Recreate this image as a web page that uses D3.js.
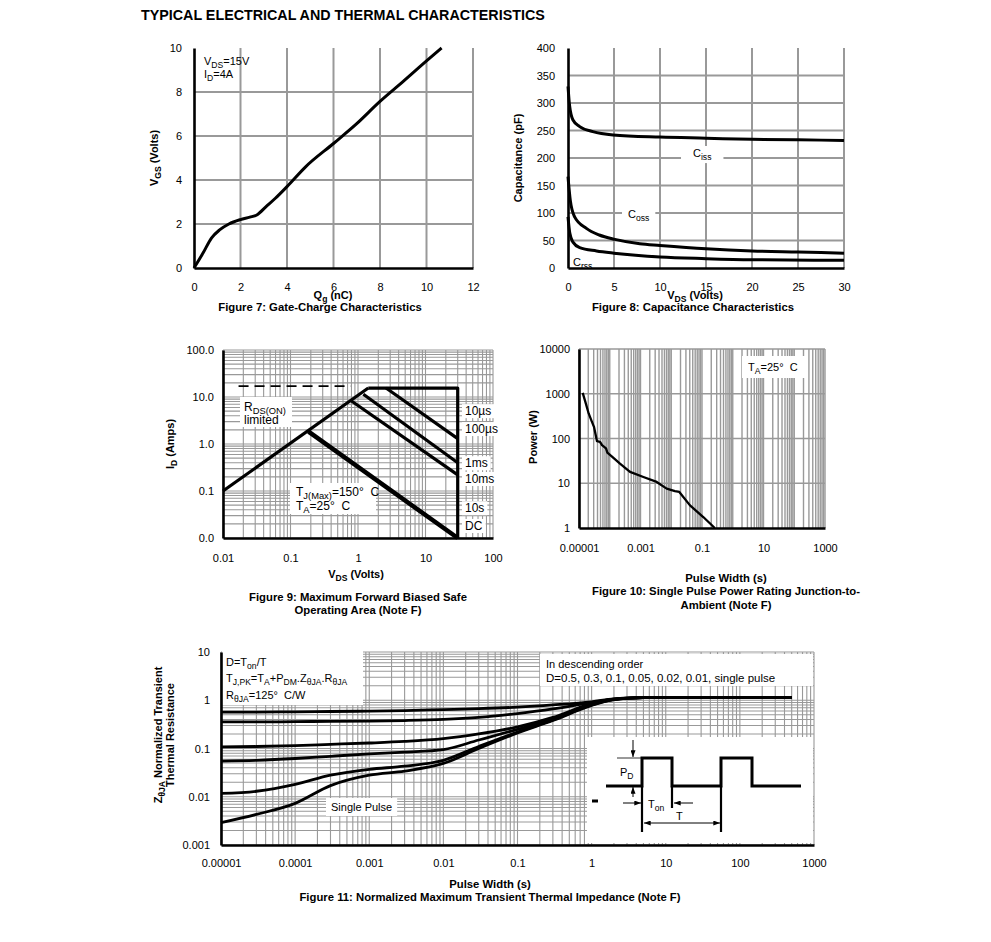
<!DOCTYPE html>
<html>
<head>
<meta charset="utf-8">
<script src="https://cdnjs.cloudflare.com/ajax/libs/d3/7.8.5/d3.min.js"></script>
<style>
  body { margin: 0; background: #fff; }
  svg { display: block; }
  text { font-family: 'Liberation Sans', Arial, sans-serif; fill: #000; }
</style>
</head>
<body>
<script>
// ---- Figure 7: gate charge
const gateQ = [0, 0.4, 0.75, 1.1, 1.5, 2, 2.4, 2.7, 3.1, 3.5, 4, 4.8, 6, 7, 8, 9, 10, 10.65];
const gateV = [0, 0.7, 1.36, 1.73, 2.0, 2.2, 2.31, 2.41, 2.79, 3.17, 3.7, 4.6, 5.66, 6.56, 7.57, 8.48, 9.41, 10];

// ---- Figure 8: capacitance
const cissV = [0, 0.18, 0.54, 1.27, 2.7, 4.9, 10, 15, 20, 25, 30];
const cissC = [330, 294, 269, 257, 248, 242, 238, 236, 234, 233, 232];
const cossV = [0, 0.25, 0.72, 2, 3.4, 5.1, 7.8, 10, 15, 20, 25, 30];
const cossC = [166, 123, 93, 72, 60, 52, 44, 41, 35, 31, 29, 27];
const crssV = [0, 0.2, 0.54, 1.27, 3.1, 5, 10, 15, 20, 30];
const crssC = [93, 63, 47, 37, 31, 27, 20, 17, 15, 14];

// ---- Figure 9: safe operating area (VDS, ID)
const soaRds = [[0.01, 0.1], [1.42, 15.5]];
const soaDash = [[0.017, 17], [0.78, 17]];
const soaEnvelope = [[1.42, 15.5], [30, 15.5], [30, 0.01]];
const soa10us = [[2.6, 15.5], [30, 1.3]];
const soa100us = [[1.2, 11.4], [30, 0.4]];
const soa1ms = [[0.8, 8.2], [30, 0.22]];
const soaDC = [[0.185, 1.83], [30, 0.01]];
const soaLabels = ["10\u00b5s", "100\u00b5s", "1ms", "10ms", "10s", "DC"];
const soaLabelI = [5.0, 2.08, 0.39, 0.18, 0.043, 0.018];

// ---- Figure 10: single pulse power
const pwrT = [1.32e-5, 1.61e-5, 2.06e-5, 2.58e-5, 3.07e-5, 3.85e-5, 4.82e-5, 5.6e-5, 7.55e-5, 8.35e-5, 1.21e-4,
  2.15e-4, 4.56e-4, 1.24e-3, 3.36e-3, 7.1e-3, 1.32e-2, 1.83e-2, 4.07e-2, 0.11, 0.26];
const pwrP = [1050, 660, 363, 245, 182, 87, 84, 71, 60, 48.5, 39, 27.5, 18, 13.8, 10.7, 7.6, 6.7, 6.4, 3.2, 1.76, 1];

// ---- Figure 11: transient thermal impedance
const zthT = [1e-5, 3e-5, 1e-4, 3e-4, 1e-3, 3e-3, 1e-2, 3e-2, 0.1, 0.3, 1, 2, 5, 20, 100, 500];
const zthD05 = [0.57, 0.57, 0.575, 0.585, 0.595, 0.61, 0.64, 0.67, 0.72, 0.8, 0.93, 1.07, 1.13, 1.15, 1.15, 1.15];
const zthD03 = [0.355, 0.355, 0.36, 0.365, 0.37, 0.38, 0.4, 0.44, 0.53, 0.66, 0.9, 1.06, 1.13, 1.15, 1.15, 1.15];
const zthD01 = [0.108, 0.11, 0.115, 0.122, 0.13, 0.14, 0.16, 0.2, 0.28, 0.44, 0.85, 1.05, 1.13, 1.15, 1.15, 1.15];
const zthD005 = [0.055, 0.057, 0.062, 0.069, 0.077, 0.084, 0.095, 0.15, 0.25, 0.41, 0.82, 1.04, 1.13, 1.15, 1.15, 1.15];
const zthD002 = [0.0117, 0.013, 0.018, 0.028, 0.037, 0.043, 0.057, 0.11, 0.22, 0.39, 0.8, 1.03, 1.13, 1.15, 1.15, 1.15];
const zthSingle = [0.0029, 0.0043, 0.0073, 0.017, 0.028, 0.034, 0.049, 0.1, 0.21, 0.38, 0.78, 1.03, 1.13, 1.15, 1.15, 1.15];

// tick values / labels
const ticks7x = [0, 2, 4, 6, 8, 10, 12], ticks7y = [0, 2, 4, 6, 8, 10];
const ticks8x = [0, 5, 10, 15, 20, 25, 30], ticks8y = [0, 50, 100, 150, 200, 250, 300, 350, 400];
const ticks9x = [0.01, 0.1, 1, 10, 100], labels9x = ["0.01", "0.1", "1", "10", "100"];
const ticks9y = [0.01, 0.1, 1, 10, 100], labels9y = ["0.0", "0.1", "1.0", "10.0", "100.0"];
const ticks10x = [1e-5, 1e-3, 0.1, 10, 1000], labels10x = ["0.00001", "0.001", "0.1", "10", "1000"];
const ticks10y = [1, 10, 100, 1000, 10000], labels10y = ["1", "10", "100", "1000", "10000"];
const ticks11x = [1e-5, 1e-4, 1e-3, 1e-2, 0.1, 1, 10, 100, 1000];
const labels11x = ["0.00001", "0.0001", "0.001", "0.01", "0.1", "1", "10", "100", "1000"];
const ticks11y = [0.001, 0.01, 0.1, 1, 10], labels11y = ["0.001", "0.01", "0.1", "1", "10"];

const NB = "\u00a0";
const svg = d3.select("body").append("svg").attr("width", 991).attr("height", 942);

// every k*10^n between lo and hi, for the log grids
function logGrid(lo, hi) {
  const out = [];
  for (let e = Math.round(Math.log10(lo)); e < Math.round(Math.log10(hi)); e++)
    for (let k = 1; k < 10; k++) out.push(k * Math.pow(10, e));
  out.push(hi);
  return out;
}

function panel(o) {
  const g = svg.append("g");
  const x = (o.xlog ? d3.scaleLog() : d3.scaleLinear()).domain(o.xd).range([o.left, o.right]);
  const y = (o.ylog ? d3.scaleLog() : d3.scaleLinear()).domain(o.yd).range([o.bottom, o.top]);
  const grid = g.append("g").attr("stroke", o.gc || "#999").attr("stroke-width", o.gw || 1.2);
  grid.selectAll(".gx").data(o.xgrid).join("line").attr("class", "gx")
    .attr("x1", d => x(d)).attr("x2", d => x(d)).attr("y1", o.top).attr("y2", o.bottom);
  grid.selectAll(".gy").data(o.ygrid).join("line").attr("class", "gy")
    .attr("y1", d => y(d)).attr("y2", d => y(d)).attr("x1", o.left).attr("x2", o.right);
  const boxes = g.append("g").attr("fill", "#fff");
  const marks = g.append("g").attr("fill", "none").attr("stroke", "#000").attr("stroke-linejoin", "round");
  const labels = g.append("g");
  const ax = g.append("g").attr("transform", `translate(0,${o.bottom})`)
    .call(d3.axisBottom(x).tickValues(o.xticks).tickFormat((d, i) => o.xlab ? o.xlab[i] : d)
      .tickSize(0).tickSizeOuter(0).tickPadding(o.xpad));
  const ay = g.append("g").attr("transform", `translate(${o.left},0)`)
    .call(d3.axisLeft(y).tickValues(o.yticks).tickFormat((d, i) => o.ylab ? o.ylab[i] : d)
      .tickSize(0).tickSizeOuter(0).tickPadding(o.ypad));
  [ax, ay].forEach(a => {
    a.select(".domain").attr("stroke", "#000").attr("stroke-width", 2.6);
    a.selectAll("text").attr("font-size", 11).attr("font-family", "'Liberation Sans', Arial, sans-serif");
  });
  return { g, x, y, boxes, marks, labels };
}

// text with subscripts: parts are strings or [subscript]
function rich(parent, x, y, parts, size, opt) {
  opt = opt || {};
  const t = parent.append("text").attr("x", x).attr("y", y).attr("font-size", size)
    .attr("text-anchor", opt.anchor || "start").attr("font-weight", opt.bold ? "bold" : null);
  if (opt.rotate) t.attr("transform", `rotate(-90,${x},${y})`);
  let shift = 0;
  parts.forEach(p => {
    const sub = Array.isArray(p);
    const want = sub ? size * 0.28 : 0;
    t.append("tspan").attr("dy", want - shift).attr("font-size", sub ? size * 0.78 : size).text(sub ? p[0] : p);
    shift = want;
  });
  return t;
}

function boxBehind(p, t, px, py) {
  const b = t.node().getBBox();
  p.boxes.append("rect").attr("x", b.x - px).attr("y", b.y - py)
    .attr("width", b.width + 2 * px).attr("height", b.height + 2 * py);
}

function plain(x, y, str, size, anchor) {
  return svg.append("text").attr("x", x).attr("y", y).attr("font-size", size)
    .attr("font-weight", "bold").attr("text-anchor", anchor || "middle").text(str);
}

const CAP = 11.3;

// ---------- title
plain(141, 20, "TYPICAL ELECTRICAL AND THERMAL CHARACTERISTICS", 14.3, "start");

// ---------- Figure 7
{
  const p = panel({ left: 194, right: 473, top: 48, bottom: 268, xd: [0, 12], yd: [0, 10],
    xgrid: [2, 4, 6, 8, 10, 12], ygrid: [2, 4, 6, 8], gw: 2, xticks: ticks7x, yticks: ticks7y, xpad: 15, ypad: 12 });
  const line = d3.line().x(d => p.x(d[0])).y(d => p.y(d[1])).curve(d3.curveMonotoneX);
  p.marks.append("path").attr("d", line(d3.zip(gateQ, gateV))).attr("stroke-width", 3);
  rich(p.labels, 204, 65, ["V", ["DS"], "=15V"], 11);
  rich(p.labels, 204, 78, ["I", ["D"], "=4A"], 11);
  rich(svg, 333, 299, ["Q", ["g"], " (nC)"], 11, { anchor: "middle", bold: true });
  plain(320, 311, "Figure 7: Gate-Charge Characteristics", CAP);
  rich(svg, 158, 158, ["V", ["GS"], " (Volts)"], 11, { anchor: "middle", bold: true, rotate: true });
}

// ---------- Figure 8
{
  const p = panel({ left: 568, right: 844, top: 48, bottom: 268, xd: [0, 30], yd: [0, 400],
    xgrid: [5, 10, 15, 20, 25, 30], ygrid: [50, 100, 150, 200, 250, 300, 350], gw: 2,
    xticks: ticks8x, yticks: ticks8y, xpad: 15, ypad: 13 });
  const line = d3.line().x(d => p.x(d[0])).y(d => p.y(d[1])).curve(d3.curveMonotoneX);
  [[cissV, cissC], [cossV, cossC], [crssV, crssC]].forEach(s =>
    p.marks.append("path").attr("d", line(d3.zip(s[0], s[1]))).attr("stroke-width", 3));
  const l1 = rich(p.labels, 693, 157, ["C", ["iss"]], 11);
  const l2 = rich(p.labels, 628, 218, ["C", ["oss"]], 11);
  const l3 = rich(p.labels, 573, 266, ["C", ["rss"]], 11);
  boxBehind(p, l1, 12, 1); boxBehind(p, l2, 6, 1); boxBehind(p, l3, 2, 1);
  rich(svg, 695, 299, ["V", ["DS"], " (Volts)"], 11, { anchor: "middle", bold: true });
  plain(693, 311, "Figure 8: Capacitance Characteristics", CAP);
  rich(svg, 522, 158, ["Capacitance (pF)"], 11, { anchor: "middle", bold: true, rotate: true });
}

// ---------- Figure 9
{
  const p = panel({ left: 223, right: 493, top: 350, bottom: 538, xlog: true, ylog: true,
    xd: [0.01, 100], yd: [0.01, 100], xgrid: logGrid(0.01, 100), ygrid: logGrid(0.01, 100), gw: 1.1,
    xticks: ticks9x, xlab: labels9x, yticks: ticks9y, ylab: labels9y, xpad: 16, ypad: 9 });
  // white annotation boxes
  p.boxes.append("rect").attr("x", 240).attr("y", 397).attr("width", 52).attr("height", 30);
  p.boxes.append("rect").attr("x", 290).attr("y", 483).attr("width", 86).attr("height", 31);
  const line = d3.line().x(d => p.x(d[0])).y(d => p.y(d[1]));
  [soaRds, soaEnvelope, soa10us, soa100us, soa1ms].forEach(s =>
    p.marks.append("path").attr("d", line(s)).attr("stroke-width", 3.2));
  p.marks.append("path").attr("d", line(soaDC)).attr("stroke-width", 4.5);
  p.marks.append("path").attr("d", line(soaDash)).attr("stroke-width", 1.8).attr("stroke-dasharray", "10,6");
  rich(p.labels, 244, 411, ["R", ["DS(ON)"]], 12);
  rich(p.labels, 244, 424, ["limited"], 12);
  rich(p.labels, 296, 496, ["T", ["J(Max)"], "=150\u00b0" + NB + NB + "C"], 12);
  rich(p.labels, 296, 510, ["T", ["A"], "=25\u00b0" + NB + NB + "C"], 12);
  soaLabels.forEach((s, i) => {
    const t = rich(p.labels, 465, p.y(soaLabelI[i]) + 4, [s], 12);
    boxBehind(p, t, 3, 0);
  });
  rich(svg, 356, 578, ["V", ["DS"], " (Volts)"], 11, { anchor: "middle", bold: true });
  plain(358, 601, "Figure 9: Maximum Forward Biased Safe", CAP);
  plain(358, 614, "Operating Area (Note F)", CAP);
  rich(svg, 174, 444, ["I", ["D"], " (Amps)"], 11, { anchor: "middle", bold: true, rotate: true });
}

// ---------- Figure 10
{
  const p = panel({ left: 579, right: 825, top: 349, bottom: 528, xlog: true, ylog: true,
    xd: [1e-5, 1000], yd: [1, 10000], xgrid: logGrid(1e-5, 1000), ygrid: [10, 100, 1000, 10000], gw: 1.4,
    xticks: ticks10x, xlab: labels10x, yticks: ticks10y, ylab: labels10y, xpad: 16, ypad: 9 });
  p.boxes.append("rect").attr("x", 742).attr("y", 356).attr("width", 64).attr("height", 22);
  const line = d3.line().x(d => p.x(d[0])).y(d => p.y(d[1]));
  p.marks.append("path").attr("d", line(d3.zip(pwrT, pwrP))).attr("stroke-width", 2.3);
  rich(p.labels, 748, 371, ["T", ["A"], "=25\u00b0" + NB + NB + "C"], 11);
  plain(726, 582, "Pulse Width (s)", CAP);
  plain(726, 595, "Figure 10: Single Pulse Power Rating Junction-to-", CAP);
  plain(726, 609, "Ambient (Note F)", CAP);
  rich(svg, 537, 437, ["Power (W)"], 11, { anchor: "middle", bold: true, rotate: true });
}

// ---------- Figure 11
{
  const p = panel({ left: 221, right: 814, top: 652, bottom: 845, xlog: true, ylog: true,
    xd: [1e-5, 1000], yd: [0.001, 10], xgrid: logGrid(1e-5, 1000), ygrid: logGrid(0.001, 10), gw: 1.1,
    xticks: ticks11x, xlab: labels11x, yticks: ticks11y, ylab: labels11y, xpad: 14, ypad: 11 });
  p.boxes.append("rect").attr("x", 222).attr("y", 651).attr("width", 141).attr("height", 54);
  p.boxes.append("rect").attr("x", 540).attr("y", 654).attr("width", 273).attr("height", 32);
  p.boxes.append("rect").attr("x", 587).attr("y", 737).attr("width", 226).attr("height", 106);
  const line = d3.line().x(d => p.x(d[0])).y(d => p.y(d[1])).curve(d3.curveMonotoneX);
  [zthD05, zthD03, zthD01, zthD005, zthD002, zthSingle].forEach(s =>
    p.marks.append("path").attr("d", line(d3.zip(zthT, s))).attr("stroke-width", 2.8));
  const sp = rich(p.labels, 331, 811, ["Single Pulse"], 11);
  boxBehind(p, sp, 5, 3);
  rich(p.labels, 226, 666, ["D=T", ["on"], "/T"], 11);
  rich(p.labels, 226, 682, ["T", ["J,PK"], "=T", ["A"], "+P", ["DM"], ".Z", ["\u03b8JA"], ".R", ["\u03b8JA"]], 11);
  rich(p.labels, 226, 699, ["R", ["\u03b8JA"], "=125\u00b0" + NB + NB + "C/W"], 11);
  rich(p.labels, 546, 668, ["In descending order"], 11);
  rich(p.labels, 546, 682, ["D=0.5, 0.3, 0.1, 0.05, 0.02, 0.01, single pulse"], 11.5);

  // duty cycle sketch inside the inset
  const defs = svg.append("defs");
  defs.append("marker").attr("id", "ah").attr("viewBox", "0 0 8 6").attr("refX", 8).attr("refY", 3)
    .attr("markerWidth", 7).attr("markerHeight", 5).attr("orient", "auto")
    .append("path").attr("d", "M0,0L8,3L0,6z").attr("fill", "#000");
  defs.append("marker").attr("id", "ahs").attr("viewBox", "0 0 8 6").attr("refX", 0).attr("refY", 3)
    .attr("markerWidth", 7).attr("markerHeight", 5).attr("orient", "auto")
    .append("path").attr("d", "M8,0L0,3L8,6z").attr("fill", "#000");
  const ins = p.labels.append("g").attr("transform", "translate(587,737)")
    .attr("fill", "none").attr("stroke", "#000");
  ins.append("path").attr("stroke-width", 3)
    .attr("d", "M19,49H55V21H85V49H134V21H165V49H214");
  ins.append("path").attr("stroke-width", 2.2).attr("d", "M55,49V95M85,49V71M134,49V95");
  ins.append("path").attr("stroke-width", 3).attr("d", "M5,64H11");
  ins.append("path").attr("stroke-width", 0.8).attr("d", "M30,21H55");
  ins.append("path").attr("stroke-width", 1).attr("marker-end", "url(#ah)").attr("d", "M46,3V20");
  ins.append("path").attr("stroke-width", 1).attr("marker-end", "url(#ah)").attr("d", "M46,60V50");
  ins.append("path").attr("stroke-width", 1).attr("marker-end", "url(#ah)").attr("d", "M36,66H54");
  ins.append("path").attr("stroke-width", 1).attr("marker-end", "url(#ah)").attr("d", "M106,66H87");
  ins.append("path").attr("stroke-width", 1).attr("marker-start", "url(#ahs)").attr("marker-end", "url(#ah)")
    .attr("d", "M57,86H133");
  rich(p.labels, 620, 776, ["P", ["D"]], 11);
  rich(p.labels, 648, 808, ["T", ["on"]], 11);
  rich(p.labels, 676, 820, ["T"], 11);

  plain(490, 888, "Pulse Width (s)", CAP);
  plain(490, 901, "Figure 11: Normalized Maximum Transient Thermal Impedance (Note F)", CAP);
  rich(svg, 162, 735, ["Z", ["\u03b8JA"], " Normalized Transient"], 11, { anchor: "middle", bold: true, rotate: true });
  rich(svg, 174, 735, ["Thermal Resistance"], 11, { anchor: "middle", bold: true, rotate: true });
}
</script>
</body>
</html>
